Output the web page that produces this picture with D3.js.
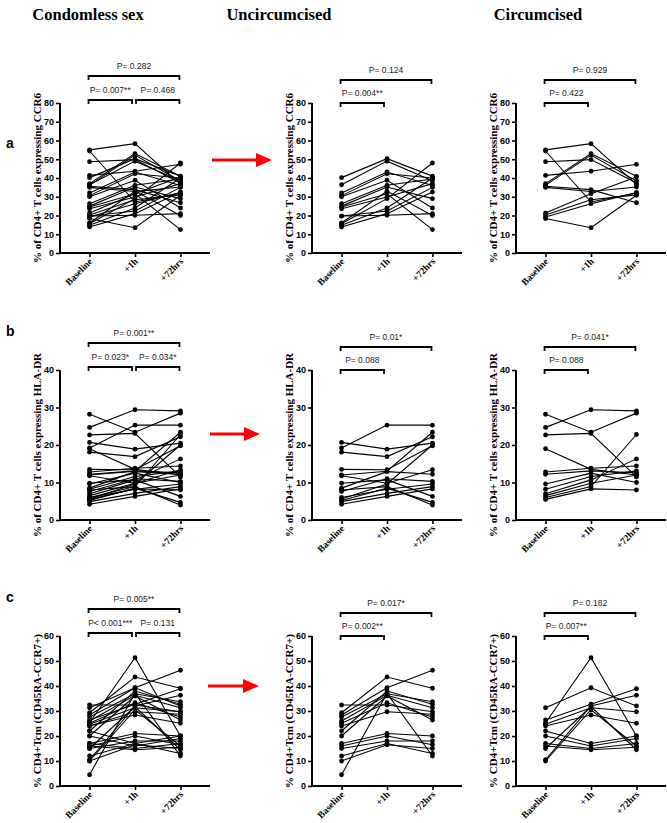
<!DOCTYPE html>
<html>
<head>
<meta charset="utf-8">
<script src="https://cdn.jsdelivr.net/npm/d3@7"></script>
<style>
  html, body { margin: 0; padding: 0; background: #fff; }
  svg { display: block; }
</style>
</head>
<body>
<svg id="chart" width="667" height="823"></svg>
<script>
// ---------------- DATA ----------------
const categories = ["Baseline", "+1h", "+72hrs"];
const columnTitles = ["Condomless sex", "Uncircumcised", "Circumcised"];
const rowLetters = ["a", "b", "c"];
const yLabels = [
  "% of CD4+ T cells expressing CCR6",
  "% of CD4+ T cells expressing HLA-DR",
  "% CD4+Tcm (CD45RA-CCR7+)"
];
const yMaxes = [80, 40, 60];
const yTickStep = 10;

// each participant: [Baseline, +1h, +72hrs]
const ccr6Uncirc = [
  [40.2, 50.3, 41.0], [36.4, 49.0, 38.5], [32.0, 43.2, 36.0], [30.6, 42.3, 40.0],
  [30.0, 38.8, 24.0], [26.3, 36.1, 39.5], [25.0, 35.2, 29.0], [24.5, 31.6, 12.5],
  [23.6, 29.9, 37.0], [19.7, 20.1, 21.0], [19.7, 22.4, 35.0], [15.6, 29.0, 48.0],
  [14.8, 24.0, 40.0], [13.9, 21.0, 32.5], [16.0, 33.0, 20.0]
];
const ccr6Circ = [
  [55.0, 58.3, 36.6], [54.4, 27.2, 32.0], [48.7, 49.8, 37.3], [41.4, 43.6, 47.3],
  [37.0, 53.0, 40.9], [36.2, 52.2, 38.4], [35.6, 33.8, 26.8], [35.0, 32.8, 35.2],
  [21.3, 31.6, 40.5], [20.3, 28.4, 31.0], [19.2, 26.3, 32.2], [18.4, 13.5, 30.8]
];
const hladrUncirc = [
  [20.7, 18.9, 20.5], [19.2, 25.3, 25.3], [18.1, 16.9, 22.2], [13.5, 13.4, 19.8],
  [12.0, 13.0, 23.4], [11.8, 9.8, 13.4], [9.8, 10.7, 6.3], [8.5, 12.9, 12.2],
  [8.0, 8.9, 4.0], [7.6, 11.0, 10.3], [6.0, 8.2, 9.6], [5.6, 9.6, 20.0],
  [4.9, 7.1, 8.9], [4.2, 6.3, 8.3], [5.2, 8.5, 4.7]
];
const hladrCirc = [
  [28.2, 23.4, 28.5], [24.7, 29.4, 29.1], [22.7, 23.1, 11.5], [19.0, 13.5, 12.0],
  [12.8, 13.8, 14.4], [12.2, 13.1, 12.6], [9.6, 12.5, 10.0], [8.2, 11.6, 13.1],
  [7.0, 10.7, 16.3], [6.5, 9.8, 12.0], [6.0, 8.9, 22.8], [5.5, 8.3, 8.0]
];
const tcmUncirc = [
  [32.4, 32.4, 29.7], [29.3, 43.6, 39.1], [28.4, 39.3, 46.3], [27.6, 36.9, 33.7],
  [26.0, 36.3, 31.3], [25.1, 33.3, 27.6], [24.0, 29.7, 28.7], [22.0, 38.0, 32.7],
  [20.0, 36.0, 26.4], [17.0, 21.0, 20.0], [16.0, 20.0, 16.5], [15.0, 18.0, 18.0],
  [12.0, 17.0, 13.0], [10.0, 16.5, 15.0], [4.5, 37.0, 12.0]
];
const tcmCirc = [
  [31.3, 39.3, 32.0], [26.4, 32.7, 38.9], [25.3, 51.3, 20.0], [24.7, 31.3, 29.7],
  [24.0, 28.4, 25.1], [22.0, 17.0, 20.0], [20.0, 16.0, 19.0], [17.0, 15.0, 17.0],
  [16.0, 14.5, 15.5], [15.0, 31.8, 14.5], [10.5, 32.0, 36.3], [10.0, 30.5, 16.0]
];

// p-value brackets per row, per column: [label, fromIndex, toIndex, level(0=top,1=lower)]
const pValuesA = [
  [["P= 0.282", 0, 2, 0], ["P= 0.007**", 0, 1, 1], ["P= 0.468", 1, 2, 1]],
  [["P= 0.124", 0, 2, 0], ["P= 0.004**", 0, 1, 1]],
  [["P= 0.929", 0, 2, 0], ["P= 0.422", 0, 1, 1]]
];
const pValuesB = [
  [["P= 0.001**", 0, 2, 0], ["P= 0.023*", 0, 1, 1], ["P= 0.034*", 1, 2, 1]],
  [["P= 0.01*", 0, 2, 0], ["P= 0.088", 0, 1, 1]],
  [["P= 0.041*", 0, 2, 0], ["P= 0.088", 0, 1, 1]]
];
const pValuesC = [
  [["P= 0.005**", 0, 2, 0], ["P< 0.001***", 0, 1, 1], ["P= 0.131", 1, 2, 1]],
  [["P= 0.017*", 0, 2, 0], ["P= 0.002**", 0, 1, 1]],
  [["P= 0.182", 0, 2, 0], ["P= 0.007**", 0, 1, 1]]
];

// ---------------- LAYOUT ----------------
const rowsData = [
  { unc: ccr6Uncirc, circ: ccr6Circ, p: pValuesA },
  { unc: hladrUncirc, circ: hladrCirc, p: pValuesB },
  { unc: tcmUncirc, circ: tcmCirc, p: pValuesC }
];
const colAxisX = [60, 312, 516];
const rowZeroY = [253, 520, 786];
const plotH = 150, plotW = 150;
const rowLetterY = [148, 336, 602];
const arrows = [[212, 272, 160], [210, 260, 434], [208, 259, 686]];
const titleX = [88, 279, 538];

const svg = d3.select("#chart");
svg.append("rect").attr("width", 667).attr("height", 823).attr("fill", "#fff");

// column titles
columnTitles.forEach((t, i) => {
  svg.append("text").attr("x", titleX[i]).attr("y", 20)
    .attr("text-anchor", "middle")
    .style("font-family", "'Liberation Serif', 'Times New Roman', serif")
    .style("font-weight", "bold").style("font-size", "16.5px")
    .text(t);
});

rowsData.forEach((row, r) => {
  const yMax = yMaxes[r];
  // row letter
  svg.append("text").attr("x", 6).attr("y", rowLetterY[r])
    .style("font-family", "'Liberation Sans', Arial, sans-serif")
    .style("font-weight", "bold").style("font-size", "14px")
    .text(rowLetters[r]);

  // red arrow
  const [ax0, ax1, ay] = arrows[r];
  svg.append("line").attr("x1", ax0).attr("x2", ax1 - 14).attr("y1", ay).attr("y2", ay)
    .attr("stroke", "#f00").attr("stroke-width", 3);
  svg.append("path")
    .attr("d", `M${ax1 - 16},${ay - 7} L${ax1},${ay} L${ax1 - 16},${ay + 7} Z`)
    .attr("fill", "#f00");

  for (let c = 0; c < 3; c++) {
    const ox = colAxisX[c], oy = rowZeroY[r];
    const g = svg.append("g").attr("transform", `translate(${ox},${oy - plotH})`);
    const x = d3.scalePoint().domain(categories).range([0, plotW]).padding(0.65);
    const y = d3.scaleLinear().domain([0, yMax]).range([plotH, 0]);

    const data = c === 0 ? row.unc.concat(row.circ) : (c === 1 ? row.unc : row.circ);

    // lines
    const line = d3.line().x((d, i) => x(categories[i])).y(d => y(d));
    g.selectAll("path.subj").data(data).enter().append("path")
      .attr("class", "subj").attr("d", d => line(d))
      .attr("fill", "none").attr("stroke", "#000").attr("stroke-width", 1.1);
    // points
    data.forEach(d => {
      g.selectAll(null).data(d).enter().append("circle")
        .attr("cx", (v, i) => x(categories[i])).attr("cy", v => y(v))
        .attr("r", 2.4).attr("fill", "#000");
    });

    // y axis
    const yAxis = d3.axisLeft(y).tickValues(d3.range(0, yMax + 1, yTickStep))
      .tickSize(4).tickPadding(2).tickFormat(d3.format("d"));
    const ya = g.append("g").call(yAxis);
    ya.select(".domain").attr("stroke-width", 2).attr("d", `M0,${plotH}V0`);
    ya.selectAll(".tick line").attr("stroke-width", 1.6);
    ya.selectAll(".tick text")
      .style("font-family", "'Liberation Sans', Arial, sans-serif")
      .style("font-weight", "bold").style("font-size", "9px").attr("fill", "#000");

    // x axis
    const xAxis = d3.axisBottom(x).tickSize(4).tickPadding(3);
    const xa = g.append("g").attr("transform", `translate(0,${plotH})`).call(xAxis);
    xa.select(".domain").attr("stroke-width", 2).attr("d", `M0,0H${plotW}`);
    xa.selectAll(".tick line").attr("stroke-width", 1.6);
    xa.selectAll(".tick text")
      .attr("text-anchor", "end")
      .attr("dy", null).attr("y", 0)
      .attr("transform", "translate(3,9) rotate(-45)")
      .style("font-family", "'Liberation Serif', 'Times New Roman', serif")
      .style("font-weight", "bold").style("font-size", "9.5px").style("fill", "#000");

    // y label
    svg.append("text")
      .attr("transform", `translate(${ox - 19},${oy - plotH / 2}) rotate(-90)`)
      .attr("text-anchor", "middle")
      .style("font-family", "'Liberation Serif', 'Times New Roman', serif")
      .style("font-weight", "bold").style("font-size", "11px")
      .text(yLabels[r]);

    // p-value brackets
    const topOff = c === 0 ? -27 : -23;
    const lowOff = c === 0 ? -3 : 0;
    row.p[c].forEach(([lab, i0, i1, lvl]) => {
      const by = lvl === 0 ? topOff : lowOff;
      let bx0 = x(categories[i0]) - 1, bx1 = x(categories[i1]) - 1;
      if (lvl === 1 && i1 === 1) bx1 -= 2;
      if (lvl === 1 && i0 === 1) bx0 += 2;
      g.append("path")
        .attr("d", `M${bx0},${by + 4}V${by}H${bx1}V${by + 4}`)
        .attr("fill", "none").attr("stroke", "#000").attr("stroke-width", 1.8);
      g.append("text").attr("x", (bx0 + bx1) / 2).attr("y", by - 7)
        .attr("text-anchor", "middle")
        .style("font-family", "'Liberation Sans', Arial, sans-serif")
        .style("font-size", "8.5px").attr("fill", "#222")
        .text(lab);
    });
  }
});
</script>
</body>
</html>
